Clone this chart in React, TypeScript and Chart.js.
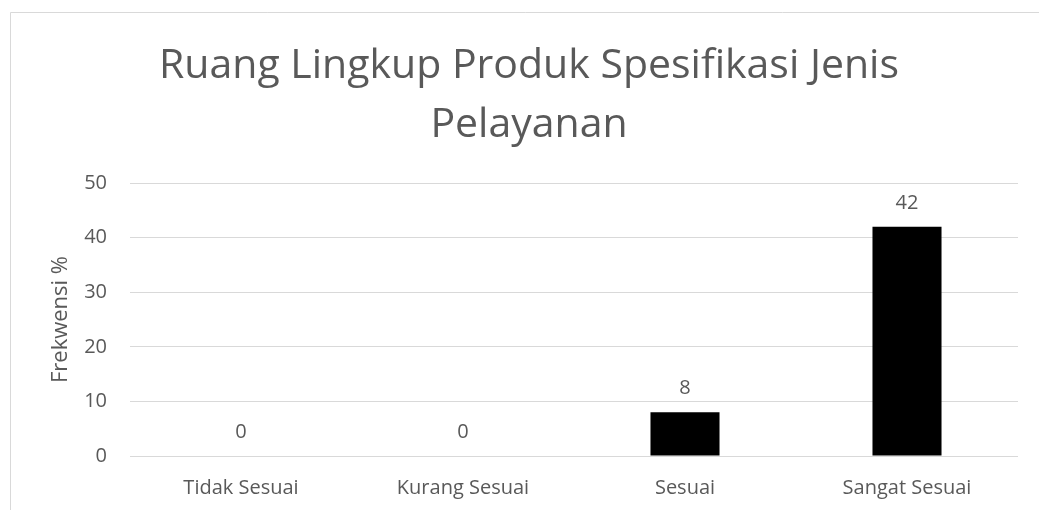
import React, { useEffect, useRef } from "react";
import { Chart, registerables } from "chart.js";

Chart.register(...registerables);

const categories = ["Tidak Sesuai", "Kurang Sesuai", "Sesuai", "Sangat Sesuai"];
const values = [0, 0, 8, 42];
const titleLines = ["Ruang Lingkup Produk Spesifikasi Jenis", "Pelayanan"];
const yAxisTitle = "Frekwensi %";
const yMin = 0;
const yMax = 50;
const yStep = 10;

const FONT = "'Open Sans', sans-serif";
const TEXT = "#595959";
const GRID = "#d9d9d9";

export default function App() {
  const ref = useRef<HTMLCanvasElement | null>(null);

  useEffect(() => {
    if (!ref.current) return;
    const decor = {
      id: "decor",
      beforeDraw(chart: any) {
        const ctx = chart.ctx;
        ctx.save();
        ctx.fillStyle = "#ffffff";
        ctx.fillRect(0, 0, chart.width, chart.height);
        ctx.strokeStyle = GRID;
        ctx.lineWidth = 1;
        ctx.beginPath();
        ctx.moveTo(10.5, chart.height + 5);
        ctx.lineTo(10.5, 12.5);
        ctx.lineTo(chart.width + 5, 12.5);
        ctx.stroke();
        ctx.restore();
      },
      afterDraw(chart: any) {
        const ctx = chart.ctx;
        ctx.save();
        ctx.fillStyle = TEXT;
        ctx.textAlign = "center";
        ctx.textBaseline = "alphabetic";
        ctx.font = `41px ${FONT}`;
        ctx.fillText(titleLines[0], 529, 78);
        ctx.fillText(titleLines[1], 529, 137);
        ctx.restore();
      },
      afterDatasetsDraw(chart: any) {
        const ctx = chart.ctx;
        const meta = chart.getDatasetMeta(0);
        ctx.save();
        ctx.fillStyle = TEXT;
        ctx.textAlign = "center";
        ctx.textBaseline = "alphabetic";
        ctx.font = `20px ${FONT}`;
        meta.data.forEach((el: any, i: number) => {
          ctx.fillText(String(values[i]), el.x, el.y - 18);
        });
        ctx.restore();
      },
    };

    const chart = new Chart(ref.current, {
      type: "bar",
      data: {
        labels: categories,
        datasets: [
          {
            data: values,
            backgroundColor: "#000000",
            borderWidth: 0,
            barPercentage: 0.311,
            categoryPercentage: 1,
          },
        ],
      },
      options: {
        responsive: false,
        animation: false,
        layout: { padding: { top: 183, left: 0, right: 21, bottom: 0 } },
        plugins: {
          legend: { display: false },
          title: { display: false },
          tooltip: { enabled: false },
        },
        scales: {
          x: {
            grid: { display: false, drawTicks: false },
            border: { display: false },
            ticks: {
              color: TEXT,
              font: { family: FONT, size: 20 },
              padding: 20,
              maxRotation: 0,
            },
            afterFit(scale: any) {
              scale.height = 54;
            },
          },
          y: {
            min: yMin,
            max: yMax,
            grid: { color: GRID, drawTicks: false, lineWidth: 1 },
            border: { display: false },
            ticks: {
              stepSize: yStep,
              color: TEXT,
              font: { family: FONT, size: 20 },
              padding: 23,
            },
            title: {
              display: true,
              text: yAxisTitle,
              color: TEXT,
              font: { family: FONT, size: 22 },
              padding: { top: 48, bottom: 0 },
            },
            afterFit(scale: any) {
              scale.width = 130;
            },
          },
        },
      },
      plugins: [decor],
    });
    return () => chart.destroy();
  }, []);

  return (
    <div style={{ position: "absolute", left: 0, top: 0, width: 1039, height: 510 }}>
      <canvas ref={ref} width={1039} height={510} style={{ display: "block" }} />
    </div>
  );
}
